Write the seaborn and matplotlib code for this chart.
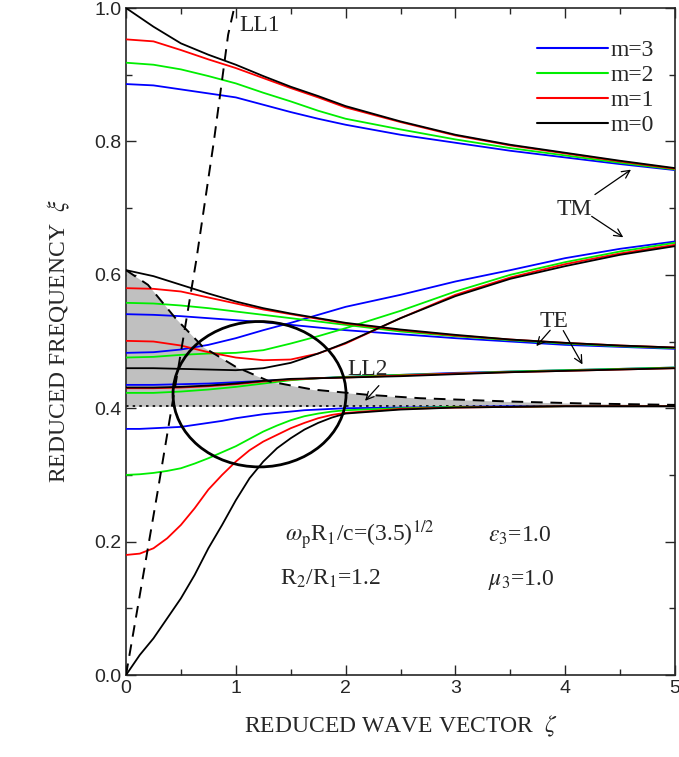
import numpy as np
import pandas as pd
import matplotlib
matplotlib.use("Agg")
import matplotlib.pyplot as plt
import seaborn as sns
from matplotlib.patches import Ellipse, FancyArrowPatch
from matplotlib.ticker import MultipleLocator

# -------------------------
# Data
# -------------------------
xg = [0, 0.25, 0.5, 0.75, 1.0, 1.25, 1.5, 1.75, 2.0, 2.5, 3.0, 3.5, 4.0, 4.5, 5.0]

# upper TM branch
tm_up = {
    0: [1.000, 0.972, 0.947, 0.930, 0.915, 0.898, 0.882, 0.868, 0.853, 0.830, 0.810, 0.795, 0.783, 0.771, 0.760],
    1: [0.953, 0.950, 0.937, 0.923, 0.910, 0.895, 0.880, 0.866, 0.851, 0.829, 0.809, 0.794, 0.782, 0.770, 0.759],
    2: [0.918, 0.915, 0.908, 0.898, 0.887, 0.873, 0.860, 0.846, 0.834, 0.818, 0.803, 0.790, 0.779, 0.768, 0.758],
    3: [0.886, 0.884, 0.878, 0.872, 0.866, 0.855, 0.844, 0.834, 0.825, 0.810, 0.798, 0.786, 0.776, 0.766, 0.757],
}
# lower TM branch (rising)
tm_low = {
    0: [0.460, 0.460, 0.459, 0.458, 0.457, 0.460, 0.468, 0.482, 0.498, 0.535, 0.568, 0.594, 0.613, 0.630, 0.643],
    1: [0.501, 0.500, 0.494, 0.484, 0.476, 0.472, 0.473, 0.482, 0.497, 0.535, 0.570, 0.596, 0.616, 0.632, 0.645],
    2: [0.476, 0.477, 0.480, 0.482, 0.483, 0.487, 0.497, 0.508, 0.520, 0.546, 0.575, 0.600, 0.619, 0.635, 0.648],
    3: [0.483, 0.484, 0.488, 0.495, 0.505, 0.517, 0.528, 0.540, 0.552, 0.570, 0.590, 0.607, 0.625, 0.639, 0.650],
}
# upper TE branch (falling)
te_up = {
    0: [0.607, 0.598, 0.585, 0.572, 0.560, 0.550, 0.542, 0.535, 0.528, 0.518, 0.510, 0.503, 0.498, 0.494, 0.491],
    1: [0.580, 0.579, 0.575, 0.566, 0.557, 0.548, 0.541, 0.534, 0.527, 0.517, 0.509, 0.503, 0.498, 0.494, 0.491],
    2: [0.558, 0.557, 0.554, 0.550, 0.545, 0.540, 0.535, 0.530, 0.525, 0.515, 0.508, 0.502, 0.497, 0.493, 0.490],
    3: [0.541, 0.540, 0.538, 0.535, 0.532, 0.529, 0.525, 0.521, 0.517, 0.511, 0.505, 0.500, 0.495, 0.492, 0.489],
}
# lower TE branch
te_low = {
    0: [0.431, 0.431, 0.432, 0.434, 0.437, 0.441, 0.444, 0.445, 0.446, 0.448, 0.451, 0.454, 0.456, 0.458, 0.460],
    1: [0.430, 0.430, 0.431, 0.433, 0.436, 0.440, 0.443, 0.445, 0.446, 0.449, 0.452, 0.454, 0.456, 0.458, 0.460],
    2: [0.423, 0.423, 0.425, 0.428, 0.432, 0.437, 0.442, 0.445, 0.447, 0.450, 0.452, 0.455, 0.457, 0.459, 0.461],
    3: [0.435, 0.435, 0.436, 0.437, 0.439, 0.441, 0.443, 0.445, 0.447, 0.450, 0.453, 0.455, 0.457, 0.459, 0.461],
}
# surface branch below 0.4 (finer grid)
xs = [0, 0.125, 0.25, 0.375, 0.5, 0.625, 0.75, 0.875, 1.0, 1.125, 1.25, 1.375, 1.5, 1.625, 1.75, 1.875, 2.0,
      2.5, 3.0, 3.5, 4.0, 4.5, 5.0]
surf = {
    0: [0.000, 0.030, 0.055, 0.085, 0.115, 0.150, 0.190, 0.225, 0.262, 0.295, 0.320, 0.340, 0.355, 0.368, 0.378,
        0.386, 0.392, 0.398, 0.401, 0.402, 0.403, 0.403, 0.403],
    1: [0.180, 0.182, 0.190, 0.205, 0.225, 0.250, 0.278, 0.300, 0.320, 0.337, 0.350, 0.360, 0.370, 0.378, 0.385,
        0.390, 0.393, 0.399, 0.401, 0.402, 0.403, 0.403, 0.403],
    2: [0.300, 0.301, 0.303, 0.306, 0.310, 0.317, 0.325, 0.334, 0.343, 0.354, 0.365, 0.374, 0.382, 0.388, 0.392,
        0.395, 0.397, 0.400, 0.402, 0.402, 0.403, 0.403, 0.403],
    3: [0.369, 0.369, 0.370, 0.371, 0.372, 0.375, 0.378, 0.381, 0.385, 0.388, 0.391, 0.393, 0.395, 0.397, 0.398,
        0.399, 0.400, 0.401, 0.402, 0.403, 0.403, 0.403, 0.403],
}

ll1_x = [0, 0.29, 0.64, 0.80, 0.93, 0.985]
ll1_y = [0, 0.277, 0.622, 0.80, 0.96, 1.0]
ll2_x = [0, 0.2, 0.45, 0.7, 1.0, 1.31, 1.7, 2.21, 2.68, 3.5, 4.2, 5.0]
ll2_y = [0.607, 0.585, 0.535, 0.492, 0.462, 0.440, 0.428, 0.420, 0.415, 0.410, 0.407, 0.405]
asym = 0.403

colors = {3: "#0000ff", 2: "#00ee00", 1: "#ff0000", 0: "#000000"}

# -------------------------
# Plot
# -------------------------
sns.set_style("ticks")
plt.rcParams["font.family"] = ["Liberation Serif", "DejaVu Serif"]
plt.rcParams["mathtext.fontset"] = "stix"

fig = plt.figure(figsize=(6.79, 7.57), dpi=100)
ax = fig.add_axes([0.1856, 0.1083, 0.8085, 0.8811])

ax.fill_between(ll2_x, asym, ll2_y, color="#c0c0c0", lw=0, zorder=1)
ax.axhline(asym, color="black", ls=(0, (1.5, 2.5)), lw=1.2, zorder=2)

rows = []
for fam_name, fam, grid in [("tmu", tm_up, xg), ("tml", tm_low, xg), ("teu", te_up, xg),
                            ("tel", te_low, xg), ("s", surf, xs)]:
    for m, ys in fam.items():
        for x, y in zip(grid, ys):
            rows.append({"x": x, "y": y, "m": m, "curve": f"{fam_name}{m}"})
df = pd.DataFrame(rows)

for m in [3, 2, 1, 0]:
    sub = df[df["m"] == m]
    first = True
    for cname, g in sub.groupby("curve", sort=False):
        sns.lineplot(data=g, x="x", y="y", color=colors[m], lw=1.3, ax=ax,
                     label=f"m={m}" if first else None, zorder=3, estimator=None)
        first = False

ax.plot(ll1_x, ll1_y, color="black", ls=(0, (6, 4)), lw=1.4, zorder=4)
ax.plot(ll2_x, ll2_y, color="black", ls=(0, (6, 4)), lw=1.4, zorder=4)

ax.add_patch(Ellipse((1.216, 0.421), 1.576, 0.218, fill=False, ec="black", lw=2, zorder=5))


def arrow(x0, y0, x1, y1):
    ax.add_patch(FancyArrowPatch((x0, y0), (x1, y1), arrowstyle="->", mutation_scale=14,
                                 lw=0.9, color="black", zorder=6))


tfs = 17
ax.text(1.03, 0.965, "LL1", fontsize=tfs)
ax.text(2.02, 0.45, "LL2", fontsize=tfs)
arrow(2.32, 0.437, 2.16, 0.408)
ax.text(3.92, 0.69, "TM", fontsize=tfs)
arrow(4.25, 0.718, 4.62, 0.76)
arrow(4.22, 0.69, 4.55, 0.654)
ax.text(3.77, 0.522, "TE", fontsize=tfs)
arrow(3.88, 0.52, 3.72, 0.49)
arrow(3.97, 0.52, 4.17, 0.462)

ax.text(1.45, 0.2, r"$\omega_{\rm p}$R$_1$/c=(3.5)$^{1/2}$", fontsize=tfs)
ax.text(1.4, 0.135, r"R$_2$/R$_1$=1.2", fontsize=tfs)
ax.text(3.3, 0.2, r"$\varepsilon_3$=1.0", fontsize=tfs)
ax.text(3.3, 0.135, r"$\mu_3$=1.0", fontsize=tfs)

ax.set_xlim(0, 5)
ax.set_ylim(0, 1)
ax.xaxis.set_major_locator(MultipleLocator(1))
ax.xaxis.set_minor_locator(MultipleLocator(0.5))
ax.yaxis.set_major_locator(MultipleLocator(0.2))
ax.yaxis.set_minor_locator(MultipleLocator(0.1))
ax.set_yticks([0, 0.2, 0.4, 0.6, 0.8, 1.0], ["0.0", "0.2", "0.4", "0.6", "0.8", "1.0"])
ax.tick_params(which="both", direction="in", top=True, right=True, labelsize=14)
ax.tick_params(which="major", length=7, width=1)
ax.tick_params(which="minor", length=4, width=1)
for lab in ax.get_xticklabels() + ax.get_yticklabels():
    lab.set_family(["Liberation Sans", "DejaVu Sans"])
for s in ax.spines.values():
    s.set_linewidth(1.2)
ax.set_xlabel(r"REDUCED WAVE VECTOR  $\zeta$", fontsize=17, labelpad=12)
ax.set_ylabel(r"REDUCED FREQUENCY  $\xi$", fontsize=17, labelpad=16)

leg = ax.legend(loc="upper right", frameon=False, fontsize=17, handlelength=3.0,
                handletextpad=0.1, labelspacing=0.15, bbox_to_anchor=(1.0, 0.985))
for h in leg.get_lines():
    h.set_linewidth(1.5)

fig.savefig("out.png", dpi=100)
